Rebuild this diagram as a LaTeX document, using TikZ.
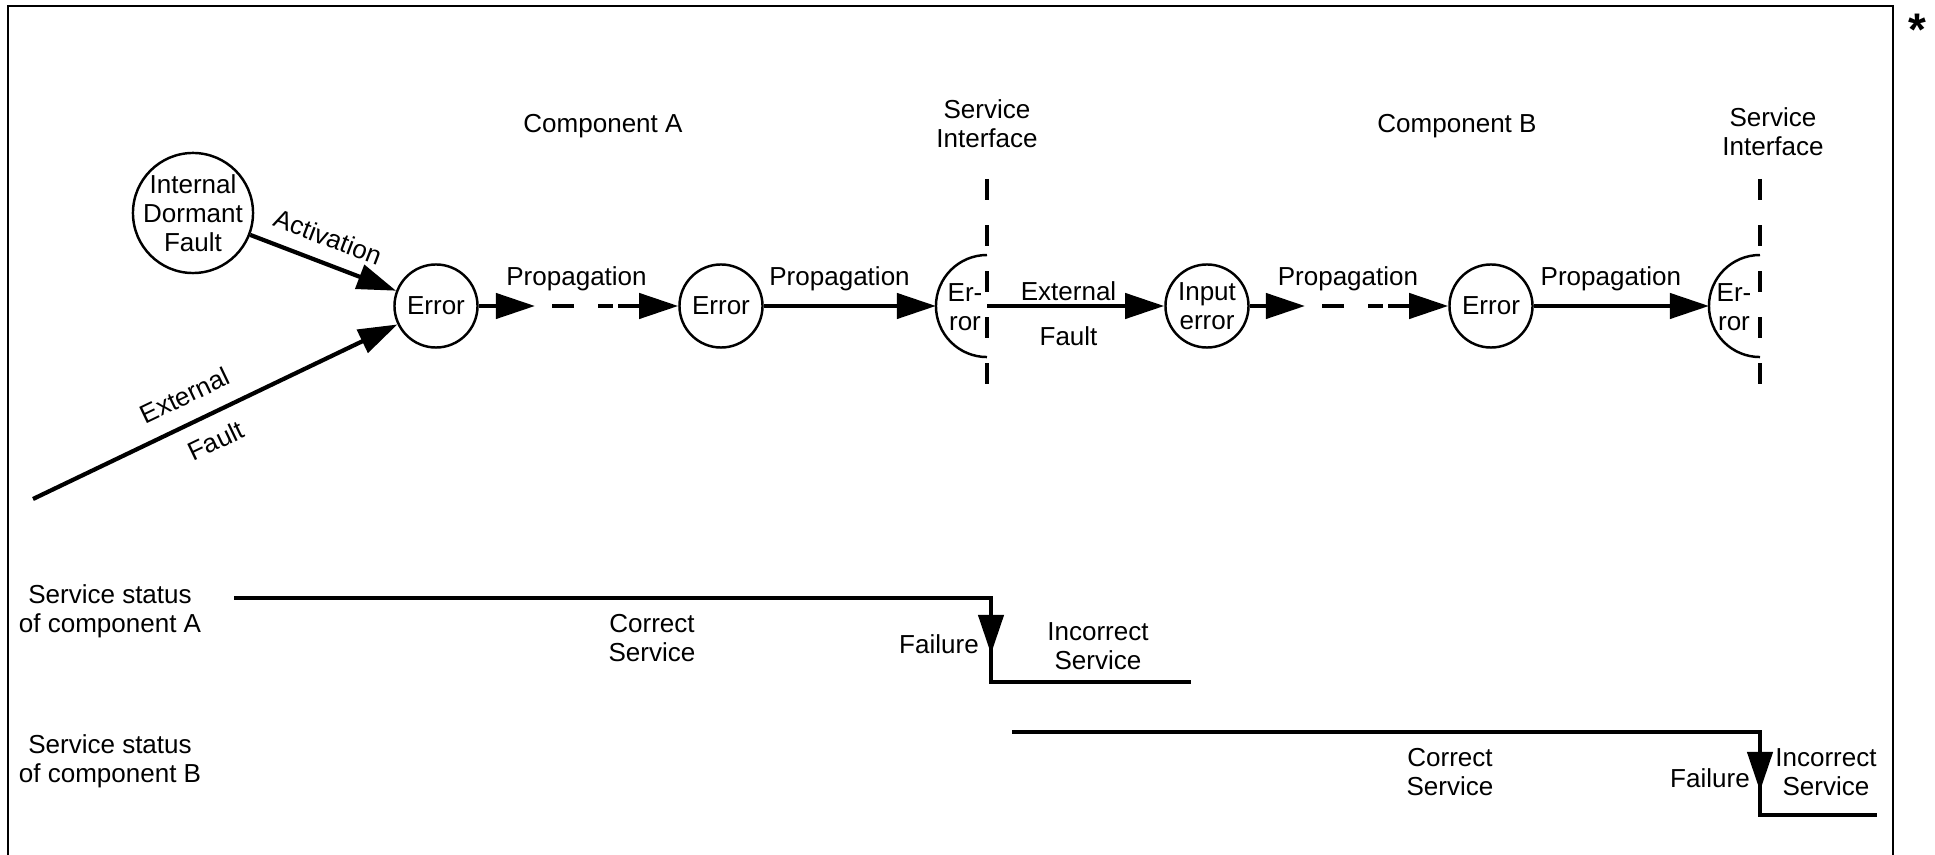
\documentclass[tikz,border=0pt]{standalone}
\usepackage{fontspec}
\setmainfont{Liberation Sans}
\usepackage{tikz}
\usetikzlibrary{arrows.meta}
\usetikzlibrary{positioning}

\begin{document}
\begin{tikzpicture}[x=0.01cm, y=-0.01cm, font=\fontsize{7.4}{8.3}\selectfont]
  \tikzstyle{err}=[draw, circle, line width=0.7pt, inner sep=0pt, minimum size=0.83cm, align=center]
  \tikzstyle{arr}=[line width=1.2pt, -{Triangle[length=0.39cm, width=0.25cm]}]
  \tikzstyle{prop}=[arr, dash pattern=on 0cm off 0.17cm on 0.22cm off 0.24cm on 0.15cm off 0.05cm on 2cm]
  \tikzstyle{iface}=[line width=1.2pt, dash pattern=on 0.21cm off 0.25cm]
  \tikzstyle{half}=[line width=0.7pt]
  \tikzstyle{status}=[line width=1.2pt]
  \tikzstyle{txt}=[align=center, inner sep=0pt]

  \useasboundingbox (0,0) rectangle (1935,855);
  % frame
  \draw[line width=0.5pt] (8,855) -- (8,6) -- (1893,6) -- (1893,855);
  \node[font=\fontsize{13}{13}\selectfont\bfseries] (star) at (1917,30) {*};

  % component A
  \node[txt, anchor=base] (compA) at (603,133) {Component A};
  \node[txt] (siA) at (987,124) {Service\\Interface};
  \node[err, minimum size=1.2cm, inner sep=-1pt] (IDF) at (193,213) {Internal\\Dormant\\Fault};
  \node[err] (E1) at (436,306) {Error};
  \node[err] (E2) at (721,306) {Error};
  \coordinate (xf) at (33,499);
  \coordinate (m1) at (535,306);
  \coordinate (iA) at (987,306);
  \coordinate (iAw) at (936,306);
  \coordinate (iAt) at (987,179);
  \coordinate (iAb) at (987,386);
  \draw[half] (987,255) arc[start angle=90, end angle=270, radius=0.51cm];
  \node[txt] (erA) at (965,307) {Er-\\ror};

  \draw[arr] (IDF) -- node[sloped, above, inner sep=4pt, pos=0.47] {Activation} (E1);
  \draw[arr] (xf) -- node[sloped, above, inner sep=4.6pt, pos=0.45] {External}
                     node[sloped, below, inner sep=4.2pt, pos=0.47] {Fault} (E1);
  \draw[arr] (E1) -- (m1);
  \draw[prop] (m1) -- node[above, inner sep=3.6pt, pos=0.29] {Propagation} (E2);
  \draw[arr] (E2) -- node[above, inner sep=3.6pt, pos=0.44] {Propagation} (iAw);
  \draw[iface] (iAt) -- (iAb);

  % component B
  \node[txt, anchor=base] (compB) at (1457,133) {Component B};
  \node[txt] (siB) at (1773,132) {Service\\Interface};
  \node[err] (IE) at (1207,306) {Input\\error};
  \node[err] (E3) at (1491,306) {Error};
  \coordinate (m2) at (1305,306);
  \coordinate (iB) at (1760,306);
  \coordinate (iBw) at (1709,306);
  \coordinate (iBt) at (1760,179);
  \coordinate (iBb) at (1760,386);
  \draw[half] (1760,255) arc[start angle=90, end angle=270, radius=0.51cm];
  \node[txt] (erB) at (1734,307) {Er-\\ror};

  \draw[arr] (iA) -- node[above, inner sep=0.8pt, pos=0.46] {External}
                     node[below, inner sep=5.4pt, pos=0.46] {Fault} (IE);
  \draw[arr] (IE) -- (m2);
  \draw[prop] (m2) -- node[above, inner sep=3.6pt, pos=0.3] {Propagation} (E3);
  \draw[arr] (E3) -- node[above, inner sep=3.6pt, pos=0.44] {Propagation} (iBw);
  \draw[iface] (iBt) -- (iBb);

  % service status A
  \node[txt] (stA) at (110,611) {Service status\\of component A};
  \coordinate (a0) at (234,598);
  \coordinate (a1) at (991,598);
  \coordinate (a2) at (991,682);
  \coordinate (a3) at (1191,682);
  \coordinate (fa) at (991,654);
  \draw[status] (a0) -- (a1) -- (a2) -- (a3);
  \draw[arr] (a1) -- (fa);
  \node[txt] (corA) at (652,638) {Correct\\Service};
  \node[txt] (failA) at (939,644) {Failure};
  \node[txt] (incA) at (1098,646) {Incorrect\\Service};

  % service status B
  \node[txt] (stB) at (110,761) {Service status\\of component B};
  \coordinate (b0) at (1012,732);
  \coordinate (b1) at (1760,732);
  \coordinate (b2) at (1760,815);
  \coordinate (b3) at (1877,815);
  \coordinate (fb) at (1760,791);
  \draw[status] (b0) -- (b1) -- (b2) -- (b3);
  \draw[arr] (b1) -- (fb);
  \node[txt] (corB) at (1450,772) {Correct\\Service};
  \node[txt] (failB) at (1710,778) {Failure};
  \node[txt] (incB) at (1826,772) {Incorrect\\Service};
\end{tikzpicture}
\end{document}
